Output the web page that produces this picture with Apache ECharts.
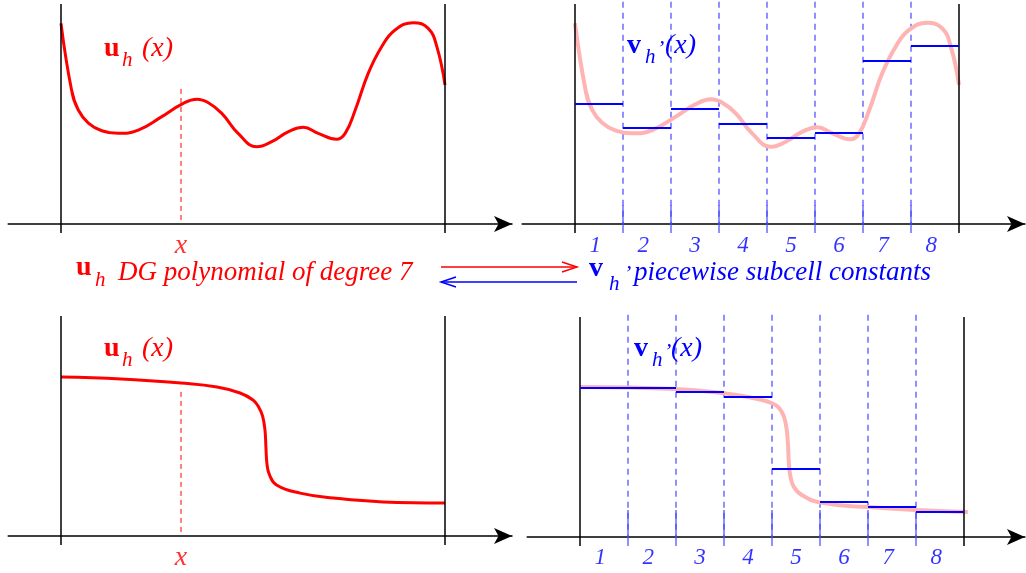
<!DOCTYPE html>
<html>
<head>
<meta charset="utf-8">
<script src="https://cdn.jsdelivr.net/npm/echarts@6/dist/echarts.min.js"></script>
<style>
  html, body { margin: 0; padding: 0; background: #fff; }
  #chart { width: 1026px; height: 573px; }
</style>
</head>
<body>
<div id="chart"></div>
<script>
// ---- data -------------------------------------------------------------
// x is measured in subcells (0..8 spans one DG cell), y in value units (0..10)
const cellLabels = ['1', '2', '3', '4', '5', '6', '7', '8'];
const cellLabelPos = [0.42, 1.42, 2.5, 3.5, 4.5, 5.5, 6.42, 7.42];
const subcellEdges = [1, 2, 3, 4, 5, 6, 7];

// smooth, oscillating degree-7 polynomial u_h
const oscX = [0, 0.22, 0.36, 0.57, 0.85, 1.19, 1.61, 2.1, 2.51, 2.83, 3.07, 3.35, 3.69, 4.08,
              4.39, 4.74, 5.05, 5.36, 5.74, 5.92, 6.13, 6.4, 6.68, 6.96, 7.34, 7.65, 7.83, 8];
const oscY = [9.12, 6.09, 5.18, 4.59, 4.24, 4.12, 4.27, 4.88, 5.44, 5.67, 5.51, 5.03, 4.12, 3.51,
              3.74, 4.2, 4.4, 4.12, 3.85, 4.12, 5.18, 6.85, 8.06, 8.82, 9.15, 8.89, 8.06, 6.32];
// subcell averages of the oscillating polynomial
const oscMeans = [5.45, 4.36, 5.23, 4.55, 3.91, 4.14, 7.41, 8.09];

// steep, shock-like polynomial u_h
const shockX = [0, 1.25, 2.5, 3.25, 3.73, 4.0, 4.12, 4.2, 4.25, 4.27, 4.29, 4.34, 4.49, 4.98, 5.67, 6.71, 8];
const shockY = [7.23, 7.14, 6.95, 6.77, 6.5, 6.18, 5.85, 5.45, 4.8, 4.0, 3.3, 2.8, 2.32, 1.95, 1.73, 1.55, 1.5];
// the same profile behind the subcell averages
const shockRX = [0, 1.98, 2.96, 3.5, 4.0, 4.2, 4.29, 4.33, 4.35, 4.38, 4.45, 4.62, 5.04, 6.0, 6.98, 8.08];
const shockRY = [6.82, 6.73, 6.55, 6.36, 6.08, 5.7, 5.1, 4.3, 3.4, 2.8, 2.3, 1.91, 1.55, 1.36, 1.23, 1.14];
const shockMeans = [6.77, 6.77, 6.59, 6.36, 3.09, 1.59, 1.36, 1.14];

// sample point marked on the left panels
const sampleX = 2.5;
const sampleTopOsc = 6.14;
const sampleTopShock = 6.55;

// ---- layout ------------------------------------------------------------
const PX = 48;                 // pixels per subcell
const XMIN = -1.1;
const SERIF = '"Liberation Serif", "Times New Roman", serif';
const RED = '#ff0000';
const BLUE = '#0000ff';
const DASH_BLUE = '#4646ff';
const PINK = '#ffb4b4';

const panels = [
  { cellLeft: 61,  top: 4,   xmax: 9.396 },  // 0: oscillating polynomial
  { cellLeft: 575, top: 4,   xmax: 9.375 },  // 1: its subcell averages
  { cellLeft: 61,  top: 316, xmax: 9.396 },  // 2: shock-like polynomial
  { cellLeft: 580, top: 317, xmax: 9.27  }   // 3: its subcell averages
];

const grid = panels.map(p => ({
  left: p.cellLeft + XMIN * PX,
  width: (p.xmax - XMIN) * PX,
  top: p.top,
  height: 220
}));

const xAxis = panels.map((p, i) => ({
  type: 'value', gridIndex: i, min: XMIN, max: p.xmax,
  axisLine: {
    show: true, onZero: false,
    symbol: ['none', 'arrow'], symbolSize: [12, 18],
    lineStyle: { color: '#000', width: 1.5 }
  },
  axisTick: { show: false }, axisLabel: { show: false }, splitLine: { show: false }
}));

const yAxis = panels.map((p, i) => ({
  type: 'value', gridIndex: i, min: 0, max: 10, show: false
}));

// ---- series helpers ----------------------------------------------------
// a straight segment drawn as its own two-point line series
function seg(gi, a, b, color, width, dash, z) {
  return {
    type: 'line', xAxisIndex: gi, yAxisIndex: gi, clip: false, silent: true,
    showSymbol: false, symbol: 'none', z: z || 2,
    lineStyle: { color: color, width: width, type: dash || 'solid', cap: 'butt' },
    data: [a, b]
  };
}
function curve(gi, xs, ys, color, width, z) {
  return {
    type: 'line', xAxisIndex: gi, yAxisIndex: gi, clip: false, silent: true,
    showSymbol: false, symbol: 'none', smooth: 0.45, z: z || 3,
    lineStyle: { color: color, width: width, cap: 'butt', join: 'round' },
    data: xs.map((x, k) => [x, ys[k]])
  };
}
function steps(gi, means) {
  return means.map((m, k) => seg(gi, [k, m], [k + 1, m], BLUE, 2, null, 5));
}
function frame(gi) {
  return [
    seg(gi, [0, 10], [0, -0.41], '#000', 1.5, null, 4),
    seg(gi, [8, 10], [8, -0.41], '#000', 1.5, null, 4)
  ];
}
function subcellLines(gi, tickTop) {
  const out = [];
  subcellEdges.forEach(e => {
    out.push(seg(gi, [e, 10.1], [e, 0], DASH_BLUE, 1.2, [6, 5], 1));
    out.push(seg(gi, [e, tickTop], [e, -0.41], DASH_BLUE, 1.2, null, 1));
  });
  return out;
}
function cellNumbers(gi, y) {
  return {
    type: 'scatter', xAxisIndex: gi, yAxisIndex: gi, clip: false, silent: true,
    symbolSize: 0, z: 6,
    data: cellLabelPos.map((x, k) => ({ value: [x, y], name: cellLabels[k] })),
    label: {
      show: true, position: 'inside', formatter: '{b}',
      color: BLUE, fontSize: 23, fontStyle: 'italic', fontFamily: SERIF
    }
  };
}
function sampleLabel(gi, y) {
  return {
    type: 'scatter', xAxisIndex: gi, yAxisIndex: gi, clip: false, silent: true,
    symbolSize: 0, z: 6,
    data: [{ value: [sampleX, y], name: 'x' }],
    label: {
      show: true, position: 'inside', formatter: '{b}',
      color: RED, fontSize: 28, fontStyle: 'italic', fontFamily: SERIF
    }
  };
}

const series = [
  // oscillating polynomial
  ...frame(0),
  seg(0, [sampleX, sampleTopOsc], [sampleX, 0], RED, 1, [5, 4], 2),
  curve(0, oscX, oscY, RED, 3, 3),
  sampleLabel(0, -1.0),
  // subcell averages of it
  ...frame(1),
  ...subcellLines(1, 0.86),
  curve(1, oscX, oscY, PINK, 4, 3),
  ...steps(1, oscMeans),
  cellNumbers(1, -0.98),
  // shock-like polynomial
  ...frame(2),
  seg(2, [sampleX, sampleTopShock], [sampleX, 0], RED, 1, [5, 4], 2),
  curve(2, shockX, shockY, RED, 3, 3),
  sampleLabel(2, -0.98),
  // subcell averages of it
  ...frame(3),
  ...subcellLines(3, 1.23),
  curve(3, shockRX, shockRY, PINK, 4, 3),
  ...steps(3, shockMeans),
  cellNumbers(3, -0.93)
];

// ---- free text and the mapping arrows ----------------------------------
function txt(text, x, baseline, size, color, opts) {
  opts = opts || {};
  const font = (opts.italic ? 'italic ' : '') + (opts.bold ? 'bold ' : '') + size + 'px ' + SERIF;
  return {
    type: 'text', x: x, y: baseline - 0.32 * size, z: 10, silent: true,
    style: { text: text, fill: color, font: font, align: 'left', verticalAlign: 'middle' }
  };
}
function symbolLabel(letter, x, baseline, color, prime, restX, rest) {
  const out = [
    txt(letter, x, baseline, 28, color, { bold: true }),
    txt('h', x + 18, baseline + 9, 21, color, { italic: true })
  ];
  if (prime) out.push(txt('\u2019', x + 30, baseline + 1, 22, color, { italic: true }));
  out.push(txt(rest, restX, baseline, 28, color, { italic: true }));
  return out;
}

const graphic = [
  ...symbolLabel('u', 104, 58, RED, false, 142, '(x)'),
  ...symbolLabel('v', 627, 55, BLUE, true, 665, '(x)'),
  ...symbolLabel('u', 104, 358, RED, false, 142, '(x)'),
  ...symbolLabel('v', 634, 358, BLUE, true, 671, '(x)'),
  // caption row
  txt('u', 76, 277, 28, RED, { bold: true }),
  txt('h', 95, 287, 21, RED, { italic: true }),
  txt('DG polynomial of degree 7', 118, 282, 27, RED, { italic: true }),
  txt('v', 589, 278, 28, BLUE, { bold: true }),
  txt('h', 609, 291, 21, BLUE, { italic: true }),
  txt('\u2019', 624, 281, 22, BLUE, { italic: true }),
  txt('piecewise subcell constants', 634, 282, 27, BLUE, { italic: true }),
  // projection / reconstruction arrows
  { type: 'polyline', silent: true, z: 10,
    shape: { points: [[441, 267], [577, 267]] }, style: { stroke: RED, lineWidth: 1.5, fill: null } },
  { type: 'polyline', silent: true, z: 10,
    shape: { points: [[562, 262], [577, 267], [562, 272]] }, style: { stroke: RED, lineWidth: 1.5, fill: null } },
  { type: 'polyline', silent: true, z: 10,
    shape: { points: [[441, 282], [577, 282]] }, style: { stroke: BLUE, lineWidth: 1.5, fill: null } },
  { type: 'polyline', silent: true, z: 10,
    shape: { points: [[456, 277], [441, 282], [456, 287]] }, style: { stroke: BLUE, lineWidth: 1.5, fill: null } }
];

const chart = echarts.init(document.getElementById('chart'), null, { renderer: 'canvas' });
chart.setOption({
  animation: false,
  backgroundColor: '#fff',
  grid: grid,
  xAxis: xAxis,
  yAxis: yAxis,
  series: series,
  graphic: graphic
});
</script>
</body>
</html>
